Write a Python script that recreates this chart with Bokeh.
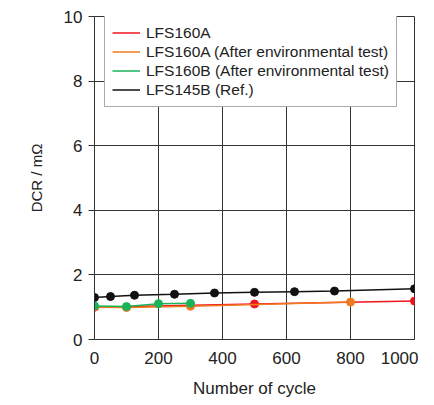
from bokeh.plotting import figure
from bokeh.models import Range1d, FixedTicker, Legend, LegendItem
from bokeh.embed import file_html
from bokeh.resources import INLINE

# Data
x_160a = [0, 500, 1000]
y_160a = [1.00, 1.10, 1.19]

x_160a_env = [0, 100, 300, 800]
y_160a_env = [1.00, 0.99, 1.03, 1.16]

x_160b_env = [0, 100, 200, 300]
y_160b_env = [1.04, 1.02, 1.11, 1.12]

x_145b = [0, 50, 125, 250, 375, 500, 625, 750, 1000]
y_145b = [1.30, 1.33, 1.37, 1.40, 1.44, 1.46, 1.48, 1.50, 1.57]

series_names = ["LFS160A", "LFS160A (After environmental test)",
                "LFS160B (After environmental test)", "LFS145B (Ref.)"]
series_colors = ["#f0141e", "#f07a1e", "#19b45a", "#111111"]

x_ticks = [0, 200, 400, 600, 800, 1000]
y_ticks = [0, 2, 4, 6, 8, 10]

FONT = "Liberation Sans"

p = figure(frame_width=320, frame_height=323,
           min_border_left=94, min_border_right=4,
           min_border_top=16, min_border_bottom=60,
           x_range=Range1d(0, 1000), y_range=Range1d(0, 10),
           output_backend="svg", toolbar_location=None,
           background_fill_color="white", border_fill_color="white")

p.outline_line_color = "#333333"
p.outline_line_width = 1

for ax in (p.xaxis[0], p.yaxis[0]):
    ax.axis_line_color = "#333333"
    ax.major_label_text_font = FONT
    ax.major_label_text_font_size = "17px"
    ax.major_label_text_color = "#222222"
    ax.axis_label_text_font = FONT
    ax.axis_label_text_font_style = "normal"
    ax.axis_label_text_color = "#222222"
    ax.minor_tick_line_color = None
    ax.major_tick_line_color = "#333333"

p.xaxis.ticker = FixedTicker(ticks=x_ticks)
p.yaxis.ticker = FixedTicker(ticks=y_ticks)
p.xaxis.major_tick_in = 0
p.xaxis.major_tick_out = 0
p.yaxis.major_tick_in = 0
p.yaxis.major_tick_out = 6
p.xaxis.major_label_standoff = 12
p.yaxis.major_label_standoff = 6
p.xaxis.axis_label = "Number of cycle"
p.yaxis.axis_label = "DCR / mΩ"
p.xaxis.axis_label_text_font_size = "17px"
p.yaxis.axis_label_text_font_size = "15px"
p.xaxis.axis_label_standoff = 12
p.yaxis.axis_label_standoff = 16

p.grid.grid_line_color = "#333333"
p.grid.grid_line_width = 1
p.grid.grid_line_alpha = 1.0
p.xgrid.ticker = FixedTicker(ticks=x_ticks)
p.ygrid.ticker = FixedTicker(ticks=y_ticks)

data = [(x_160a, y_160a), (x_160a_env, y_160a_env),
        (x_160b_env, y_160b_env), (x_145b, y_145b)]

items = []
for (xs, ys), name, col in zip(data, series_names, series_colors):
    r_line = p.line(xs, ys, line_color=col, line_width=1.5)
    p.scatter(xs, ys, size=8, fill_color=col, line_color=col)
    items.append(LegendItem(label=name, renderers=[r_line]))

legend = Legend(items=items, location=(10, 232),
                label_text_font=FONT, label_text_font_size="15.5px",
                label_text_color="#222222",
                label_height=19, glyph_height=19, glyph_width=28,
                label_standoff=6, spacing=0, padding=7, margin=0,
                border_line_color="#555555", border_line_width=1,
                background_fill_color="white", background_fill_alpha=1.0)
p.add_layout(legend, "center")

open("out.html", "w").write(file_html(p, INLINE))
